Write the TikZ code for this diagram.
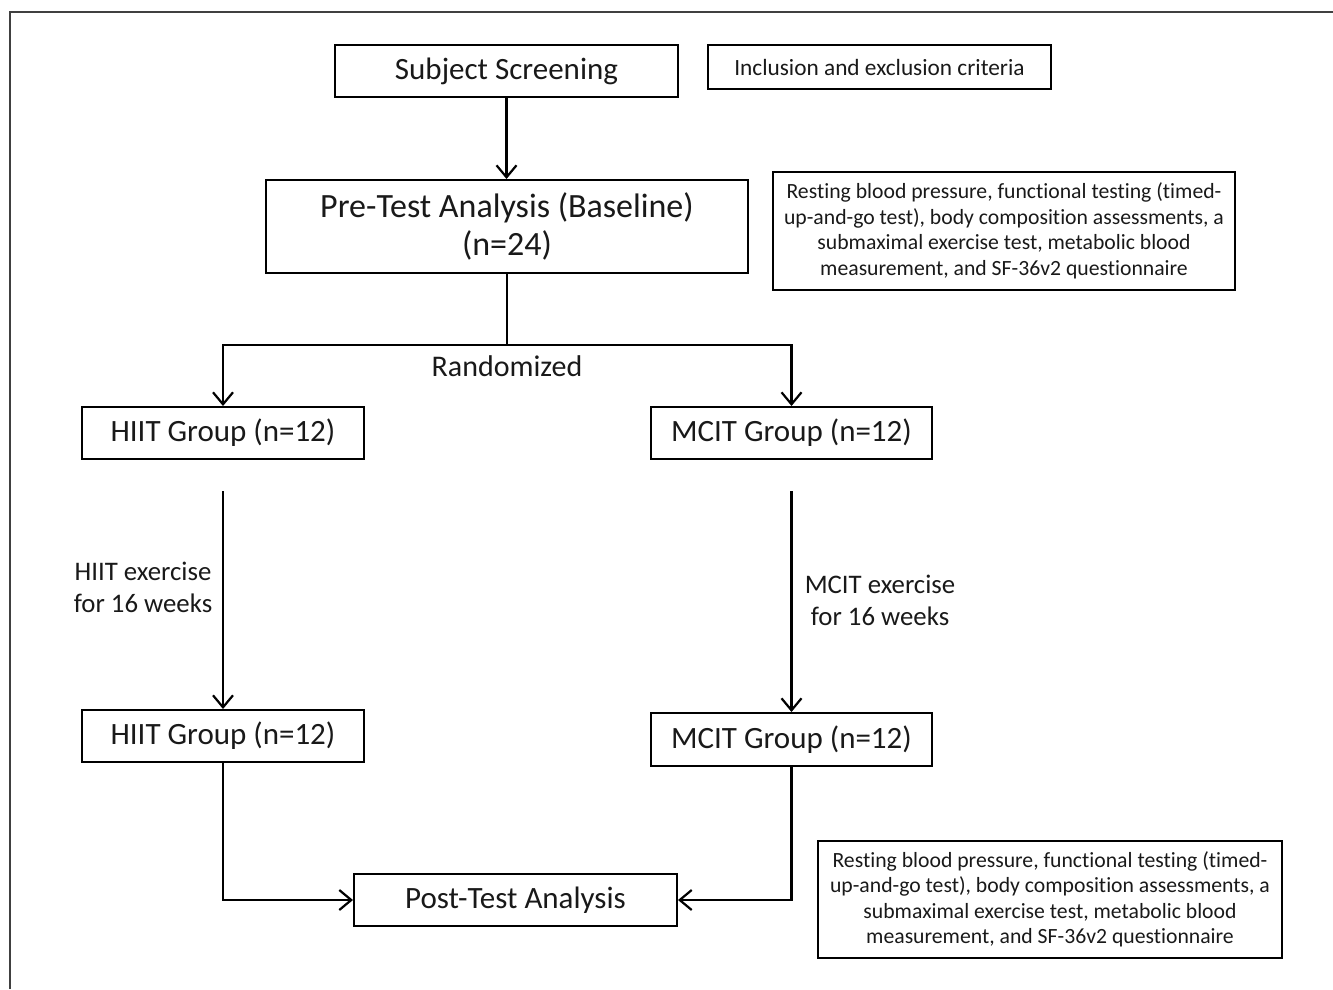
\documentclass[tikz,border=0pt]{standalone}
\usepackage{fontspec}
\setmainfont[Ligatures=NoCommon]{Carlito}
\usetikzlibrary{arrows.meta}
\begin{document}
\begin{tikzpicture}[x=1pt,y=-1pt,
  box/.style={draw, line width=2pt, inner sep=0pt, align=center, text=black!90, font=\fontsize{31}{37}\selectfont},
  info/.style={draw, line width=2pt, inner sep=0pt, align=center, text=black!90, font=\fontsize{21.7}{25.5}\selectfont},
  lbl/.style={align=center, text=black!90, font=\fontsize{26.8}{32}\selectfont},
  conn/.style={line width=2.2pt},
  arr/.style={conn, -{Straight Barb[length=12pt,width=20pt,line width=2.2pt]}}]
\useasboundingbox (0,0) rectangle (1333,989);
\draw[line width=2pt, black!75] (10,989) -- (10,12) -- (1333,12);

\node[box, minimum width=343pt, minimum height=52pt] (scr) at (506.5,71) {Subject Screening};
\node[info, minimum width=343pt, minimum height=44pt, font=\fontsize{23.3}{27}\selectfont] (incl) at (879.5,67) {Inclusion and exclusion criteria};
\node[box, minimum width=482pt, minimum height=93pt, font=\fontsize{34}{38}\selectfont] (pre) at (507,226.5) {Pre-Test Analysis (Baseline)\\(n=24)};
\node[info, minimum width=462pt, minimum height=118pt] (info1) at (1004,231) {Resting blood pressure, functional testing (timed-\\up-and-go test), body composition assessments, a\\submaximal exercise test, metabolic blood\\measurement, and SF-36v2 questionnaire};
\node[box, minimum width=282pt, minimum height=52pt] (hiit1) at (223,433) {HIIT Group (n=12)};
\node[box, minimum width=281pt, minimum height=52pt] (mcit1) at (791.5,433) {MCIT Group (n=12)};
\node[box, minimum width=282pt, minimum height=52pt] (hiit2) at (223,736) {HIIT Group (n=12)};
\node[box, minimum width=281pt, minimum height=53pt] (mcit2) at (791.5,739.5) {MCIT Group (n=12)};
\node[box, minimum width=323pt, minimum height=52pt] (post) at (515.5,900) {Post-Test Analysis};
\node[info, minimum width=464pt, minimum height=117pt] (info2) at (1050,899.5) {Resting blood pressure, functional testing (timed-\\up-and-go test), body composition assessments, a\\submaximal exercise test, metabolic blood\\measurement, and SF-36v2 questionnaire};

\node[lbl, font=\fontsize{30}{36}\selectfont] (rand) at (507,366) {Randomized};
\node[lbl] (hlbl) at (143,587) {HIIT exercise\\for 16 weeks};
\node[lbl] (mlbl) at (880,600) {MCIT exercise\\for 16 weeks};

\draw[arr] (scr.south) -- (scr.south |- pre.north);
\coordinate (sp) at (509,345);
\draw[conn] (pre.south) -- (pre.south |- sp);
\draw[arr] (pre.south |- sp) -| (hiit1.north);
\draw[arr] (pre.south |- sp) -| (mcit1.north);
\draw[arr] ([yshift=-31pt]hiit1.south) -- (hiit2.north);
\draw[arr] ([yshift=-31pt]mcit1.south) -- (mcit2.north);
\draw[arr] (hiit2.south) |- (post.west);
\draw[arr] (mcit2.south) |- (post.east);
\end{tikzpicture}
\end{document}
